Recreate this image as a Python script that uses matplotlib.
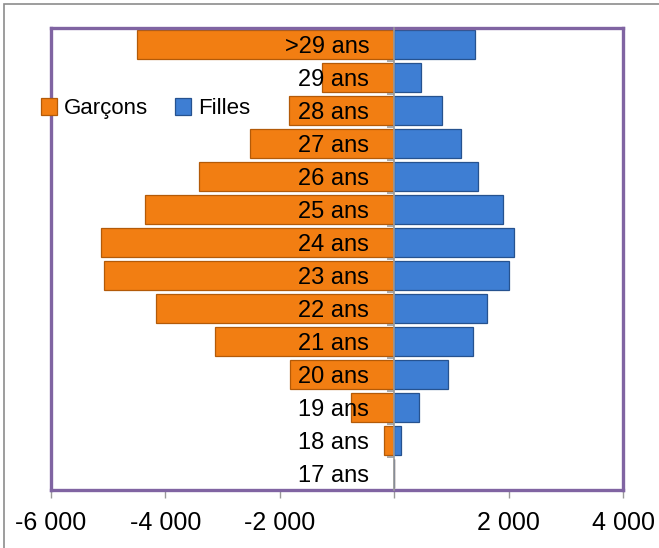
import matplotlib
matplotlib.use('Agg')
import matplotlib.pyplot as plt
import matplotlib.patches as mpatches

plt.rcParams['font.family'] = ['Liberation Sans Narrow', 'Liberation Sans', 'DejaVu Sans']

# data (bottom to top)
ages = ['17 ans', '18 ans', '19 ans', '20 ans', '21 ans', '22 ans', '23 ans',
        '24 ans', '25 ans', '26 ans', '27 ans', '28 ans', '29 ans', '>29 ans']
garcons = [0, -180, -750, -1820, -3130, -4160, -5070,
           -5120, -4350, -3410, -2520, -1840, -1260, -4490]
filles = [0, 120, 440, 940, 1380, 1630, 2010,
          2100, 1900, 1470, 1160, 840, 470, 1420]
xticks = [-6000, -4000, -2000, 0, 2000, 4000]
xlabels = ['-6 000', '-4 000', '-2 000', '', '2 000', '4 000']

orange = '#F27E12'
blue = '#3E7ED3'
purple = '#8064A2'
grey = '#9A9A9A'

W, H = 659, 548
fig = plt.figure(figsize=(W / 100, H / 100), dpi=100)
ax = fig.add_axes([51 / W, (H - 490) / H, (623 - 51) / W, (490 - 28) / H])

y = list(range(len(ages)))
ax.barh(y, garcons, height=0.88, color=orange, edgecolor='#B35A08', linewidth=0.9,
        label='Garçons', zorder=2)
ax.barh(y, filles, height=0.88, color=blue, edgecolor='#26528F', linewidth=0.9,
        label='Filles', zorder=2)

ax.set_xlim(-6000, 4000)
ax.set_ylim(-0.5, len(ages) - 0.5)
ax.set_xticks(xticks, labels=xlabels)
ax.tick_params(axis='x', length=6, width=1, color=grey, labelsize=18, pad=9)
ax.tick_params(axis='y', left=False, labelleft=False)
for s in ax.spines.values():
    s.set_color(purple)
    s.set_linewidth(2.4)

# category axis at zero
loc0 = (0 - xticks[0]) / (xticks[-1] - xticks[0])
sec = ax.secondary_yaxis(loc0)
sec.set_alignment('left')
sec.set_zorder(5)
sec.patch.set_visible(False)
sec.set_yticks(y, labels=ages)
sec.set_yticks([v - 0.5 for v in y[1:]], minor=True)
sec.tick_params(which='major', length=0, labelsize=17, pad=18)
sec.tick_params(which='minor', length=5, width=1.2, color=grey)
for s in sec.spines.values():
    s.set_color(grey)
    s.set_linewidth(1.2)

leg = ax.legend(loc='center left', bbox_to_anchor=(-0.018, 0.825), ncol=2,
                frameon=False, fontsize=16, handlelength=0.75, handleheight=0.75,
                handletextpad=0.3, columnspacing=1.2, borderpad=0, borderaxespad=0)
leg.set_zorder(6)

# outer chart border (partly cut off)
fig.patches.append(mpatches.Rectangle((4 / W, -0.1), 1.2, (H - 4) / H + 0.1,
                                      transform=fig.transFigure, fill=False,
                                      edgecolor='#8C8C8C', linewidth=1.2))

fig.savefig('out.png', dpi=100)
